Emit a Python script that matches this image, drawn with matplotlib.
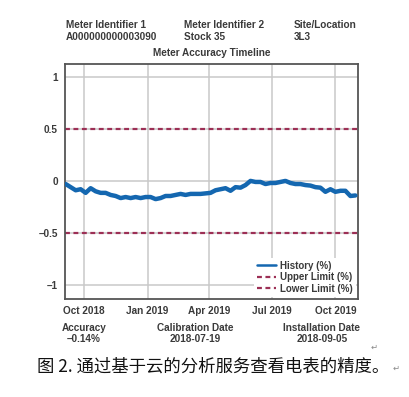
import matplotlib
matplotlib.use('Agg')
import matplotlib.pyplot as plt
import pandas as pd

# Readings of the accuracy history (%) taken off the chart, Sep 2018 -> Oct 2019
history = [
    -0.03, -0.06, -0.09, -0.08, -0.115, -0.07, -0.10, -0.115, -0.115, -0.135,
    -0.145, -0.165, -0.155, -0.165, -0.155, -0.165, -0.155, -0.155, -0.175, -0.165,
    -0.145, -0.145, -0.135, -0.125, -0.135, -0.125, -0.125, -0.125, -0.12, -0.115,
    -0.09, -0.08, -0.07, -0.095, -0.06, -0.065, -0.04, 0.0, -0.01, -0.01,
    -0.03, -0.02, -0.02, -0.01, 0.0, -0.02, -0.03, -0.03, -0.04, -0.045,
    -0.06, -0.065, -0.105, -0.08, -0.105, -0.095, -0.095, -0.145, -0.14,
]
history_start = '2018-09-04'
history_end = '2019-10-30'
upper_limit = 0.5
lower_limit = -0.5

y_ticks = [1, 0.5, 0, -0.5, -1]
y_tick_labels = ['1', '0.5', '0', '\u20130.5', '\u20131']
x_ticks = ['2018-10-01', '2019-01-01', '2019-04-01', '2019-07-01', '2019-10-01']
x_tick_labels = ['Oct 2018', 'Jan 2019', 'Apr 2019', 'Jul 2019', 'Oct 2019']

header = [('Meter Identifier 1', 'A000000000003090'),
          ('Meter Identifier 2', 'Stock 35'),
          ('Site/Location', '3L3')]
footer = [('Accuracy', '\u20130.14%'),
          ('Calibration Date', '2018-07-19'),
          ('Installation Date', '2018-09-05')]
caption = '图 2. 通过基于云的分析服务查看电表的精度。'

TEXT = '#3a3a3a'
BLUE = '#1467b0'
LIMIT = '#9c2f55'
GRID = '#c9c9c9'

plt.rcParams['font.family'] = ['Liberation Sans', 'DejaVu Sans']

fig = plt.figure(figsize=(4.10, 3.97), dpi=100)
ax = fig.add_axes([0.1585, 0.247, 0.715, 0.592])

dates = pd.date_range(history_start, history_end, periods=len(history))
ax.plot(dates, history, color=BLUE, lw=3.2, solid_capstyle='round',
        solid_joinstyle='round', label='History (%)', zorder=3)
ax.axhline(upper_limit, color=LIMIT, lw=1.6, ls=(0, (2.2, 1.6)),
           label='Upper Limit (%)', zorder=2)
ax.axhline(lower_limit, color=LIMIT, lw=1.6, ls=(0, (2.2, 1.6)),
           label='Lower Limit (%)', zorder=2)

ax.set_xlim(pd.Timestamp('2018-09-03'), pd.Timestamp('2019-11-03'))
ax.set_ylim(-1.135, 1.125)
ax.set_yticks(y_ticks)
ax.set_yticklabels(y_tick_labels)
ax.set_xticks(pd.to_datetime(x_ticks))
ax.set_xticklabels(x_tick_labels)
ax.tick_params(length=0, labelsize=7.2, colors=TEXT, pad=5)
for lab in ax.get_xticklabels() + ax.get_yticklabels():
    lab.set_fontweight('bold')
ax.grid(True, color=GRID, lw=1.1, zorder=0)
ax.set_axisbelow(True)
for sp in ax.spines.values():
    sp.set_color('#555555')
    sp.set_linewidth(1.3)

leg = ax.legend(loc='lower right', frameon=True, fontsize=7.0, handlelength=2.0,
                handletextpad=0.4, labelspacing=0.15, borderpad=0.3,
                borderaxespad=0.25)
leg.get_frame().set_edgecolor('none')
leg.get_frame().set_facecolor('white')
leg.get_frame().set_alpha(1)
leg.legend_handles[0].set_linewidth(1.8)
for t in leg.get_texts():
    t.set_color(TEXT)
    t.set_fontweight('bold')

# header block
for i, (name, value) in enumerate(header):
    x = [66, 184, 294][i] / 410
    fig.text(x, 1 - 25 / 397, name, fontsize=7.2, fontweight='bold', color=TEXT,
             va='center', ha='left')
    fig.text(x, 1 - 37 / 397, value, fontsize=7.2, fontweight='bold', color=TEXT,
             va='center', ha='left')
fig.text(212 / 410, 1 - 53 / 397, 'Meter Accuracy Timeline', fontsize=7.2,
         fontweight='bold', color=TEXT, ha='center', va='center')

# footer block
for i, (name, value) in enumerate(footer):
    x = [84, 195, 322][i] / 410
    fig.text(x, 1 - 328 / 397, name, fontsize=7.2, fontweight='bold', color=TEXT,
             ha='center', va='center')
    fig.text(x, 1 - 339 / 397, value, fontsize=7.2, fontweight='bold', color=TEXT,
             ha='center', va='center')

fig.text(374 / 410, 1 - 347 / 397, '\u21b5', fontsize=6, color='#888888',
         ha='center', va='center', family=['DejaVu Sans'])
fig.text(37 / 410, 1 - 367 / 397, caption, fontsize=12.5, color='#111111',
         ha='left', va='center', family=['Noto Sans CJK SC', 'DejaVu Sans'])
fig.text(396 / 410, 1 - 368 / 397, '\u21b5', fontsize=6, color='#888888',
         ha='center', va='center', family=['DejaVu Sans'])

fig.savefig('out.png', dpi=100)
